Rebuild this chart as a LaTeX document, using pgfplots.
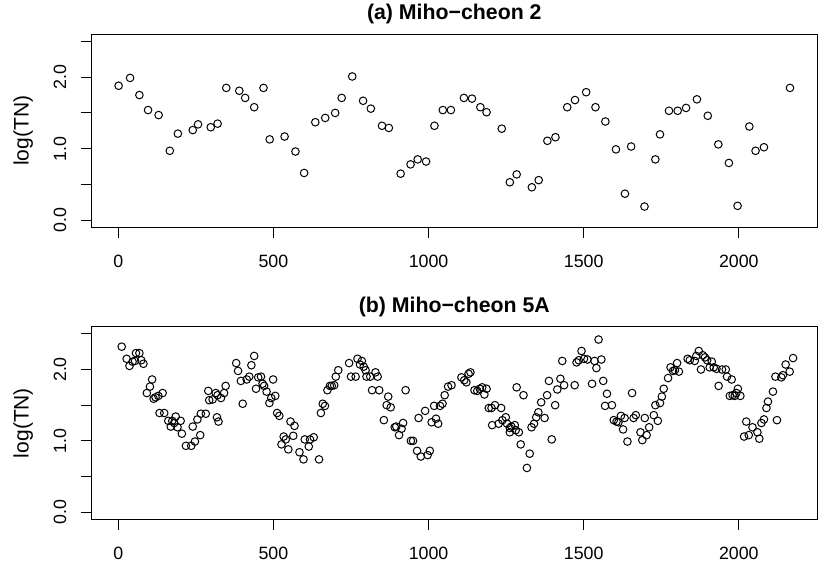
\documentclass[border=0pt]{standalone}
\usepackage{pgfplots}
\pgfplotsset{compat=1.18}
\usepackage{fontspec}
\setmainfont{Liberation Sans}

\pgfplotsset{
  rplot/.style={
    scale only axis, width=363bp, clip mode=individual,
    xmin=-87, xmax=2253, ymin=-0.1, ymax=2.6,
    axis line style={line width=0.5bp},
    tick style={line width=0.5bp, black},
    tick align=outside, major tick length=5.35bp,
    xtick pos=bottom, ytick pos=left,
    xtick={0,500,1000,1500,2000}, xticklabels={0,500,1000,1500,2000},
    ytick={0,0.5,1,1.5,2,2.5}, yticklabels={},
    tick label style={font=\fontsize{8.9bp}{10bp}\selectfont},
    xticklabel style={anchor=north, inner sep=0pt, inner ysep=8.15bp},
    ylabel={log(TN)},
    ylabel style={at={(axis description cs:-0.0799,0.5)}, anchor=south, inner sep=0pt,
      font=\fontsize{10.5bp}{12bp}\selectfont},
    every axis title shift=0pt,
    title style={at={(axis description cs:0.5,1)}, anchor=base, yshift=7.15bp,
      font=\fontsize{10.65bp}{12bp}\selectfont\bfseries},
  },
  rmarks/.style={only marks, black, mark=o, mark size=1.9bp, mark options={line width=0.5bp}},
}
% rotated y tick labels, baseline 12.3bp left of the box
\newcommand{\ylab}[2]{\node[rotate=90, anchor=south, inner sep=0pt,
  font=\fontsize{8.9bp}{10bp}\selectfont] at ([xshift=-12.3bp]axis cs:-87,#1) {#2};}

\begin{document}
\begin{tikzpicture}
\useasboundingbox (0,0) rectangle (409bp,284bp);

% (a) Miho-cheon 2
\begin{axis}[rplot, height=96.5bp, at={(45.65bp,170.35bp)}, anchor=south west,
  title={(a) Miho−cheon 2}]
\addplot[rmarks] coordinates {
(1,1.88) (38,1.99) (68,1.75) (96,1.54) (130,1.47) (166,0.97) (192,1.21) (240,1.26)
(257,1.34) (298,1.30) (320,1.35) (348,1.85) (390,1.81) (409,1.71) (438,1.58) (468,1.85)
(488,1.13) (536,1.17) (571,0.96) (599,0.66) (635,1.37) (667,1.43) (699,1.50) (720,1.71)
(754,2.01) (789,1.67) (814,1.56) (850,1.32) (872,1.29) (910,0.65) (942,0.78) (965,0.85)
(992,0.82) (1019,1.32) (1046,1.54) (1072,1.54) (1114,1.71) (1140,1.70) (1167,1.58) (1187,1.51)
(1236,1.28) (1262,0.53) (1284,0.64) (1333,0.46) (1355,0.56) (1383,1.11) (1409,1.16) (1447,1.58)
(1472,1.68) (1508,1.79) (1538,1.58) (1570,1.38) (1604,0.99) (1633,0.37) (1653,1.03) (1696,0.19)
(1731,0.85) (1746,1.20) (1775,1.53) (1803,1.53) (1830,1.57) (1865,1.69) (1900,1.46) (1934,1.06)
(1968,0.80) (1996,0.20) (2034,1.31) (2054,0.97) (2081,1.02) (2165,1.85)
};
\ylab{0}{0.0}\ylab{1}{1.0}\ylab{2}{2.0}
\end{axis}

% (b) Miho-cheon 5A
\begin{axis}[rplot, height=96.3bp, at={(45.65bp,24.35bp)}, anchor=south west,
  title={(b) Miho−cheon 5A}]
\addplot[rmarks] coordinates {
(11,2.32) (27,2.15) (36,2.05) (46,2.11) (54,2.12) (57,2.23) (68,2.23) (74,2.13) (81,2.08)
(92,1.67) (102,1.76) (109,1.86) (114,1.59) (120,1.61) (129,1.63) (143,1.67) (133,1.39) (148,1.39)
(161,1.28) (169,1.20) (174,1.28) (180,1.25) (185,1.34) (191,1.19) (201,1.28) (205,1.10)
(218,0.93) (235,0.93) (240,1.20) (247,0.99) (255,1.30) (264,1.08) (266,1.38) (282,1.38)
(290,1.70) (293,1.57) (304,1.58) (314,1.67) (318,1.33) (320,1.64) (323,1.27) (331,1.60)
(341,1.67) (346,1.77)
(380,2.09) (386,1.98) (395,1.84) (401,1.52) (414,1.86) (422,1.90) (429,2.06) (438,2.19)
(444,1.73) (451,1.89) (460,1.90) (465,1.80) (470,1.77) (478,1.69) (487,1.53) (493,1.60)
(499,1.86) (506,1.63) (512,1.39) (519,1.35) (526,0.95) (533,1.06) (540,1.02) (548,0.88)
(555,1.27) (564,1.07) (568,1.21) (584,0.84) (597,0.74) (601,1.02) (614,0.92) (618,1.02)
(630,1.05) (647,0.74) (653,1.39) (659,1.52) (666,1.49) (674,1.71) (682,1.77) (688,1.77)
(696,1.78) (701,1.90) (709,1.99) (744,2.09) (750,1.90) (765,1.90) (771,2.15) (779,2.07)
(785,2.12) (791,2.04) (797,1.99) (800,1.90) (812,1.90) (818,1.71) (829,1.96) (836,1.90)
(841,1.71) (856,1.29) (865,1.50) (870,1.62) (878,1.47) (891,1.19) (896,1.20) (905,1.08)
(913,1.17) (918,1.25) (926,1.71) (943,1.00) (950,1.00) (963,0.86) (968,1.32) (975,0.78)
(989,1.42) (997,0.80) (1004,0.86) (1010,1.26) (1018,1.49) (1024,1.31) (1031,1.24) (1037,1.49)
(1045,1.52) (1052,1.64) (1063,1.76) (1074,1.78) (1106,1.89) (1115,1.85) (1122,1.82) (1129,1.94)
(1135,1.96) (1148,1.71) (1157,1.70) (1165,1.73) (1173,1.75) (1180,1.65) (1187,1.73) (1194,1.46)
(1203,1.46) (1205,1.22) (1214,1.50) (1226,1.24) (1234,1.46) (1238,1.29) (1249,1.33) (1253,1.24)
(1262,1.12) (1262,1.18) (1267,1.20) (1278,1.22) (1281,1.15) (1284,1.75) (1291,1.12) (1297,0.95)
(1306,1.64) (1317,0.62) (1326,0.82) (1332,1.19) (1340,1.24) (1347,1.33) (1354,1.40) (1363,1.54)
(1374,1.32) (1382,1.64) (1388,1.84) (1397,1.02) (1408,1.50) (1415,1.72) (1425,1.87) (1431,2.12)
(1437,1.78) (1471,1.78) (1477,2.10) (1484,2.13) (1493,2.26) (1501,2.15) (1512,2.14) (1527,1.80)
(1535,2.12) (1541,2.02) (1548,2.42) (1557,2.14) (1563,1.84) (1569,1.49) (1575,1.66) (1591,1.50)
(1597,1.29) (1606,1.27) (1612,1.26) (1620,1.35) (1627,1.16) (1632,1.32) (1641,0.99) (1656,1.67)
(1661,1.32) (1668,1.36) (1683,1.12) (1689,1.01) (1697,1.32) (1703,1.08) (1711,1.19) (1726,1.36)
(1731,1.50) (1739,1.28) (1746,1.53) (1752,1.62) (1758,1.73) (1772,1.88) (1780,2.03) (1788,1.98)
(1794,1.99) (1801,2.09) (1807,1.97) (1835,2.15) (1842,2.13) (1858,2.12) (1863,2.19) (1871,2.26)
(1878,2.00) (1884,2.20) (1891,2.17) (1898,2.13) (1906,2.03) (1913,2.11) (1919,2.03) (1928,2.01)
(1935,1.77) (1946,2.00) (1958,2.00) (1962,1.90) (1971,1.63) (1977,1.86) (1980,1.64) (1987,1.63)
(1992,1.67) (1997,1.73) (2005,1.63) (2017,1.06) (2024,1.27) (2032,1.08) (2044,1.19) (2060,1.12)
(2066,1.03) (2073,1.25) (2081,1.30) (2089,1.46) (2094,1.55) (2110,1.69) (2118,1.90) (2123,1.29)
(2137,1.89) (2142,1.92) (2151,2.07) (2164,1.97) (2175,2.16)
};
\ylab{0}{0.0}\ylab{1}{1.0}\ylab{2}{2.0}
\end{axis}
\end{tikzpicture}
\end{document}
